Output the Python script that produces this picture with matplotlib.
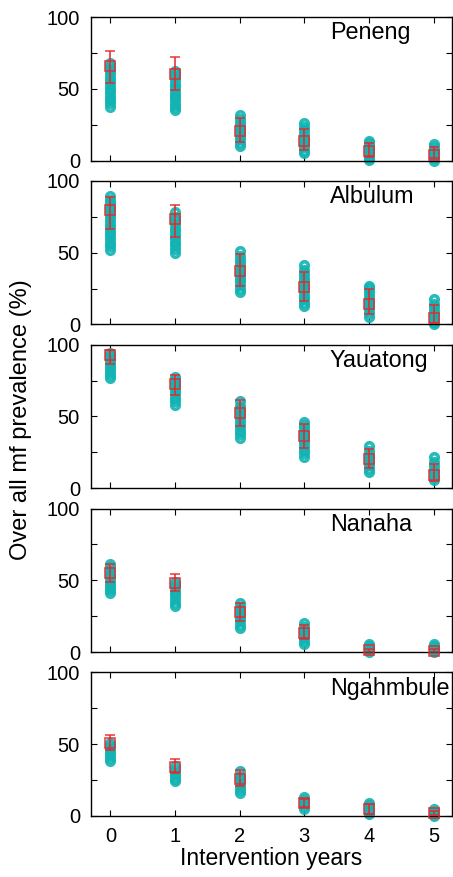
import matplotlib
matplotlib.use("Agg")
import matplotlib.pyplot as plt

plt.rcParams['font.family'] = ['Liberation Sans', 'DejaVu Sans']
plt.rcParams['font.size'] = 14.5

years = [0, 1, 2, 3, 4, 5]
villages = ["Peneng", "Albulum", "Yauatong", "Nanaha", "Ngahmbule"]

# simulated prevalence runs per village, one list per intervention year
peneng_runs = [
    [37.5, 40, 42, 44.5, 47, 49, 51.5, 54, 56, 58.5, 61, 63, 65.5, 68],
    [35, 37, 39.5, 42, 44, 46.5, 49, 51, 53.5, 56, 58, 60.5, 62.5],
    [10.5, 12.5, 15, 17, 19.5, 21.5, 24, 26.5, 29, 32],
    [5, 7, 9.5, 11.5, 14, 16, 18.5, 21, 23.5, 26.5],
    [0.5, 2, 4, 6, 8, 10, 12, 14],
    [0, 1.5, 3.5, 5.5, 7.5, 9.5, 11.5],
]
albulum_runs = [
    [52, 54.5, 57, 59.5, 62, 64.5, 67, 69.5, 72, 74.5, 77, 79.5, 82, 84.5, 87, 89.5],
    [50, 52.5, 55, 57.5, 60, 62.5, 65, 67.5, 70, 72.5, 75, 78],
    [22.5, 25, 27.5, 30, 32.5, 35, 37.5, 40, 42.5, 45, 47.5, 51],
    [12.5, 15, 17.5, 20, 22.5, 25, 27.5, 30, 32.5, 35, 38, 41.5],
    [5.5, 8, 10.5, 13, 15.5, 18, 20.5, 23, 25.5, 27],
    [0, 2, 4.5, 7, 9.5, 12, 14.5, 17.5],
]
yauatong_runs = [
    [77, 79, 81, 83, 85, 87, 89, 91, 93, 94.5],
    [58, 60.5, 63, 65.5, 68, 70.5, 73, 75.5, 77.5],
    [35, 37.5, 40, 42.5, 45, 47.5, 50, 52.5, 55, 57.5, 61],
    [22, 24.5, 27, 29.5, 32, 34.5, 37, 39.5, 42, 44, 46.5],
    [11, 13.5, 16, 18.5, 21, 23.5, 26, 29.5],
    [5.5, 8, 10.5, 13, 15.5, 18, 22],
]
nanaha_runs = [
    [41, 43, 45, 47, 49, 51.5, 54, 56.5, 59, 61.5],
    [32, 34.5, 37, 39.5, 42, 44.5, 47, 49],
    [17, 19, 21.5, 24, 26.5, 29, 31.5, 34],
    [6, 8, 10, 12.5, 15, 17.5, 20],
    [0, 1.5, 3, 4.5, 6],
    [0, 1.5, 3, 4.5, 6],
]
ngahmbule_runs = [
    [38.5, 40.5, 42.5, 44.5, 46.5, 48.5, 50.5],
    [24, 26, 28, 30, 32, 34.5],
    [16, 18, 20.5, 23, 25.5, 28, 31],
    [5, 7, 9, 11, 13],
    [1.5, 3.5, 5.5, 7.5, 9],
    [0, 1.5, 3, 5],
]

# observed prevalence with lower / upper bounds of the error bars
obs_mean = [
    [66, 60, 20.5, 13.5, 6.5, 4],
    [80, 73.5, 37.5, 25.8, 14.5, 4.5],
    [92.5, 72.3, 52.7, 36.5, 20.3, 9.2],
    [55, 48, 27.7, 13.3, 1.2, 1],
    [50.6, 33.8, 26, 9.3, 4.9, 2.1],
]
obs_low = [
    [54, 49, 13, 7.5, 2.5, 1.5],
    [66.5, 61, 26.7, 16.4, 7.5, 1],
    [86.6, 64.7, 43.6, 28.4, 14.3, 5],
    [48.6, 42.3, 21.9, 9.3, 0.3, 0.3],
    [46, 29.6, 21, 6.3, 1.6, 0.8],
]
obs_high = [
    [76.5, 72, 30, 22, 12.5, 9.5],
    [88.8, 83, 49.4, 36.8, 24.6, 13.3],
    [96, 78.8, 61.7, 44.8, 27.3, 17],
    [61.6, 54.6, 34.2, 19, 2.5, 2],
    [56.4, 39.4, 32, 12, 8.2, 3.5],
]

all_runs = [peneng_runs, albulum_runs, yauatong_runs, nanaha_runs, ngahmbule_runs]

teal = '#12b3b3'
red = '#e8262a'

fig, axes = plt.subplots(5, 1, figsize=(4.53, 8.77), dpi=100, sharex=True)
fig.subplots_adjust(left=0.201, right=0.997, top=0.9806, bottom=0.0696, hspace=0.141)

for i, ax in enumerate(axes):
    runs = all_runs[i]
    for yr, vals in zip(years, runs):
        ax.plot([yr] * len(vals), vals, 'o', ms=5.4, mfc='none', mec=teal,
                mew=2.6, alpha=0.9, clip_on=False, zorder=2)
    m = obs_mean[i]
    lo = [a - b for a, b in zip(m, obs_low[i])]
    hi = [b - a for a, b in zip(m, obs_high[i])]
    ax.errorbar(years, m, yerr=[lo, hi], fmt='none', ecolor=red, elinewidth=1.3,
                capsize=3.5, capthick=1.2, alpha=0.85, clip_on=False, zorder=3)
    ax.plot(years, m, 's', ms=7, mfc='none', mec=red, mew=1.2, alpha=0.85,
            clip_on=False, zorder=4)

    ax.set_ylim(0, 100)
    ax.set_xlim(-0.3, 5.28)
    ax.set_yticks([0, 25, 50, 75, 100])
    ax.set_yticklabels(['0', '', '50', '', '100'])
    ax.set_xticks(years)
    ax.tick_params(direction='in', top=True, right=True, length=4, width=0.8)
    ax.tick_params(axis='y', pad=8)
    ax.tick_params(axis='x', pad=8)
    for s in ax.spines.values():
        s.set_linewidth(1.0)
    ax.text(0.662, 0.89, villages[i], transform=ax.transAxes, ha='left',
            va='center', fontsize=16.8)

axes[-1].set_xlabel('Intervention years', labelpad=1, fontsize=16.5)
fig.text(21 / 453, 1 - 420 / 877, 'Over all mf prevalence (%)', rotation=90,
         ha='center', va='center', fontsize=17)

fig.savefig('out.png', dpi=100)
